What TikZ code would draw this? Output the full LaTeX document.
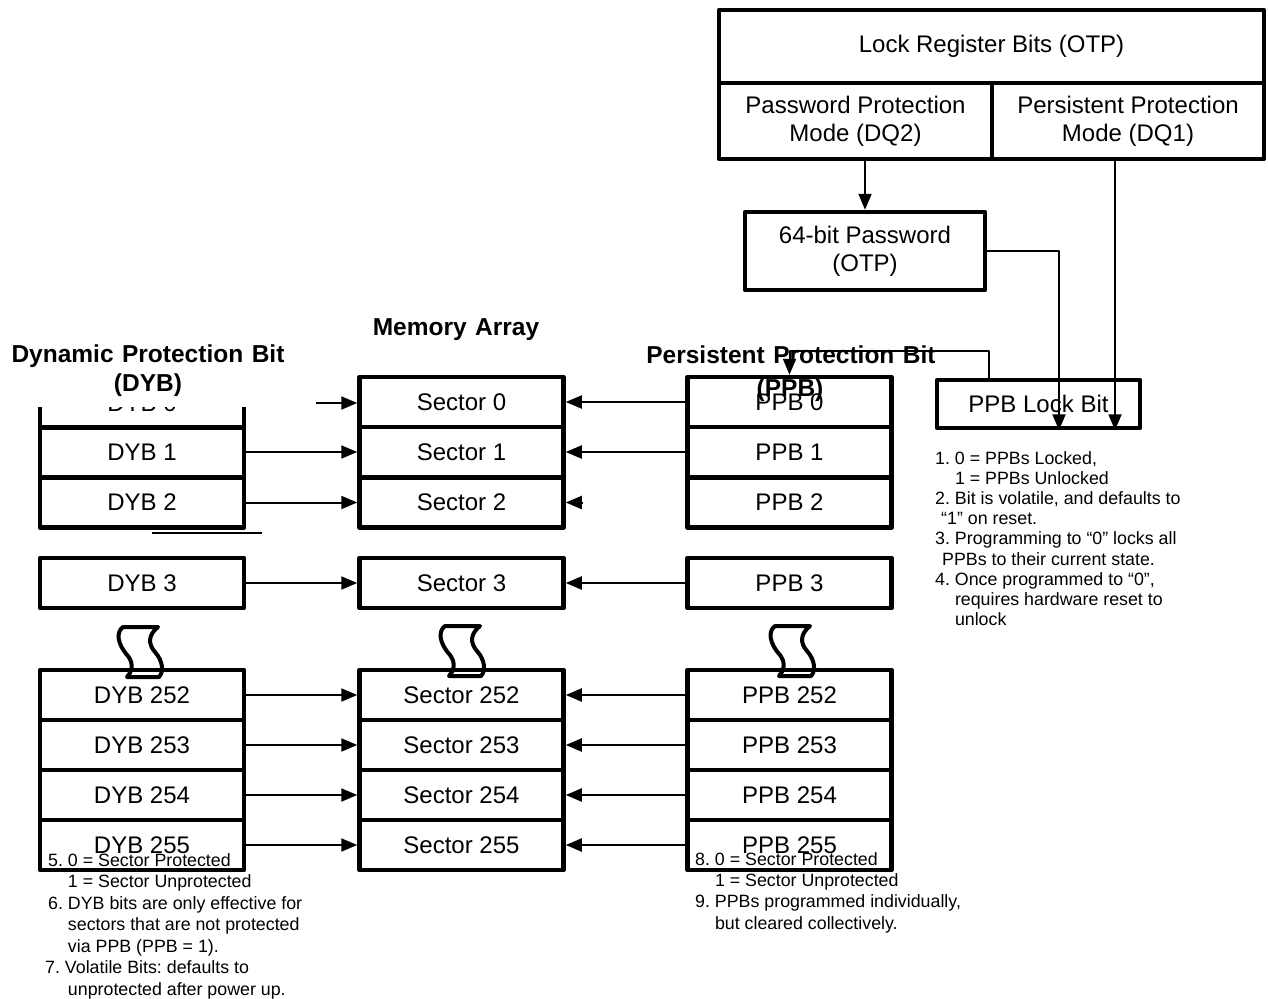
\documentclass[tikz,border=0pt]{standalone}
\usepackage{fontspec}
\setmainfont{Liberation Sans}
\usetikzlibrary{arrows.meta}
\newcommand{\wsp}{\hspace{8.5pt}}
\frenchspacing
\begin{document}
\begin{tikzpicture}[x=1pt, y=-1pt, line join=round,
    >={Triangle[length=16pt,width=13pt]},
    cell/.style={draw, line width=4.5pt, minimum width=204pt, minimum height=50pt,
        inner sep=0pt, align=center, font=\fontsize{24}{28}\selectfont},
    hdr/.style={anchor=base, inner sep=0pt, font=\bfseries\fontsize{24.5}{28}\selectfont},
    note/.style={anchor=north west, inner sep=0pt, align=left},
    arr/.style={->, line width=2pt},
    brk/.pic={\draw[line width=4pt] (-19,-25) -- (16,-25)
        .. controls (6,-17) and (6,-8) .. (13,0)
        .. controls (21,9) and (22,20) .. (17,25) -- (-15,25)
        .. controls (-10,20) and (-8,12) .. (-14,4)
        .. controls (-25,-8) and (-26,-20) .. (-19,-25) -- cycle;}]
    \useasboundingbox (0,0) rectangle (1268,998);
    % lock register
    \node[cell, minimum width=545pt, minimum height=73pt] (lockreg) at (991.5,46.5) {Lock Register Bits (OTP)};
    \node[cell, minimum width=273pt, minimum height=76pt] (pwmode) at (855.5,121) {Password Protection\\Mode (DQ2)};
    \node[cell, minimum width=272pt, minimum height=76pt] (psmode) at (1128,121) {Persistent Protection\\Mode (DQ1)};
    \node[cell, minimum width=240pt, minimum height=78pt] (pw64) at (865,251) {64-bit Password\\(OTP)};
    \node[cell, minimum width=203pt, minimum height=48pt] (lockbit) at (1038.5,404) {PPB Lock Bit};
    % headings
    \node[hdr] (hmem) at (456,335) {Memory\wsp Array};
    \node[hdr] (hdyb) at (148,362) {Dynamic\wsp Protection\wsp Bit};
    \node[hdr] (hdybb) at (148,391) {(DYB)};
    \node[hdr] (hppb) at (791,363) {Persistent\wsp Protection\wsp Bit};
    \node[hdr] (hppbb) at (790,396) {(PPB)};
    % columns
    \begin{scope}
        \clip (0,407) rectangle (400,440);
        \node[cell] (dyb0) at (142,403) {DYB 0};
    \end{scope}
    \foreach \n/\y in {1/452,2/502.5,3/583,252/695,253/745,254/795,255/845}
        \node[cell] (dyb\n) at (142,\y) {DYB \n};
    \foreach \n/\y in {0/402,1/452,2/502.5,3/583,252/695,253/745,254/795,255/845}{
        \node[cell] (sec\n) at (461.5,\y) {Sector \n};
        \node[cell] (ppb\n) at (789.5,\y) {PPB \n};
    }
    \draw[line width=2pt] (152,533) -- (262,533);
    \pic at (142,652) {brk};
    \pic at (464,651) {brk};
    \pic at (794,651) {brk};
    % connectors
    \coordinate (dyb0cut) at (316,403);
    \draw[arr] (dyb0cut) -- (dyb0cut -| sec0.west);
    \foreach \n in {1,2,3,252,253,254,255}
        \draw[arr] (dyb\n) -- (sec\n);
    \foreach \n in {0,1,3,252,253,254,255}
        \draw[arr] (ppb\n) -- (sec\n);
    \draw[arr] ([xshift=17pt]sec2.east) -- (sec2.east);
    \draw[arr] (pw64.north |- pwmode.south) -- (pw64.north);
    \draw[arr] (pw64.east) -| ([xshift=20.5pt]lockbit.south);
    \draw[arr] ([xshift=-13pt]psmode.south) -- ([xshift=-13pt]psmode.south |- lockbit.south);
    \draw[arr] ([xshift=-49.5pt]lockbit.north) -- ++(0,-27) -| (ppb0.north);
    % notes
    \node[note, font=\fontsize{17.8}{20.2}\selectfont] (nlock) at (935,451)
        {1. 0 = PPBs Locked,\\
        \hphantom{1. }1 = PPBs Unlocked\\
        2. Bit is volatile, and defaults to\\
        \hspace*{6pt}“1” on reset.\\
        3. Programming to “0” locks all\\
        \hspace*{7pt}PPBs to their current state.\\
        4. Once programmed to “0”,\\
        \hphantom{4. }requires hardware reset to\\
        \hphantom{4. }unlock};
    \node[note, font=\fontsize{17.8}{21.5}\selectfont] (ndyb) at (48,853)
        {5. 0 = Sector Protected\\
        \hphantom{5. }1 = Sector Unprotected\\
        6. DYB bits are only effective for\\
        \hphantom{6. }sectors that are not protected\\
        \hphantom{6. }via PPB (PPB = 1).\\
        \hspace*{-3pt}7. Volatile Bits: defaults to\\
        \hphantom{7. }unprotected after power up.};
    \node[note, font=\fontsize{17.8}{21.3}\selectfont] (nppb) at (695,852)
        {8. 0 = Sector Protected\\
        \hphantom{8. }1 = Sector Unprotected\\
        9. PPBs programmed individually,\\
        \hphantom{9. }but cleared collectively.};
\end{tikzpicture}
\end{document}
